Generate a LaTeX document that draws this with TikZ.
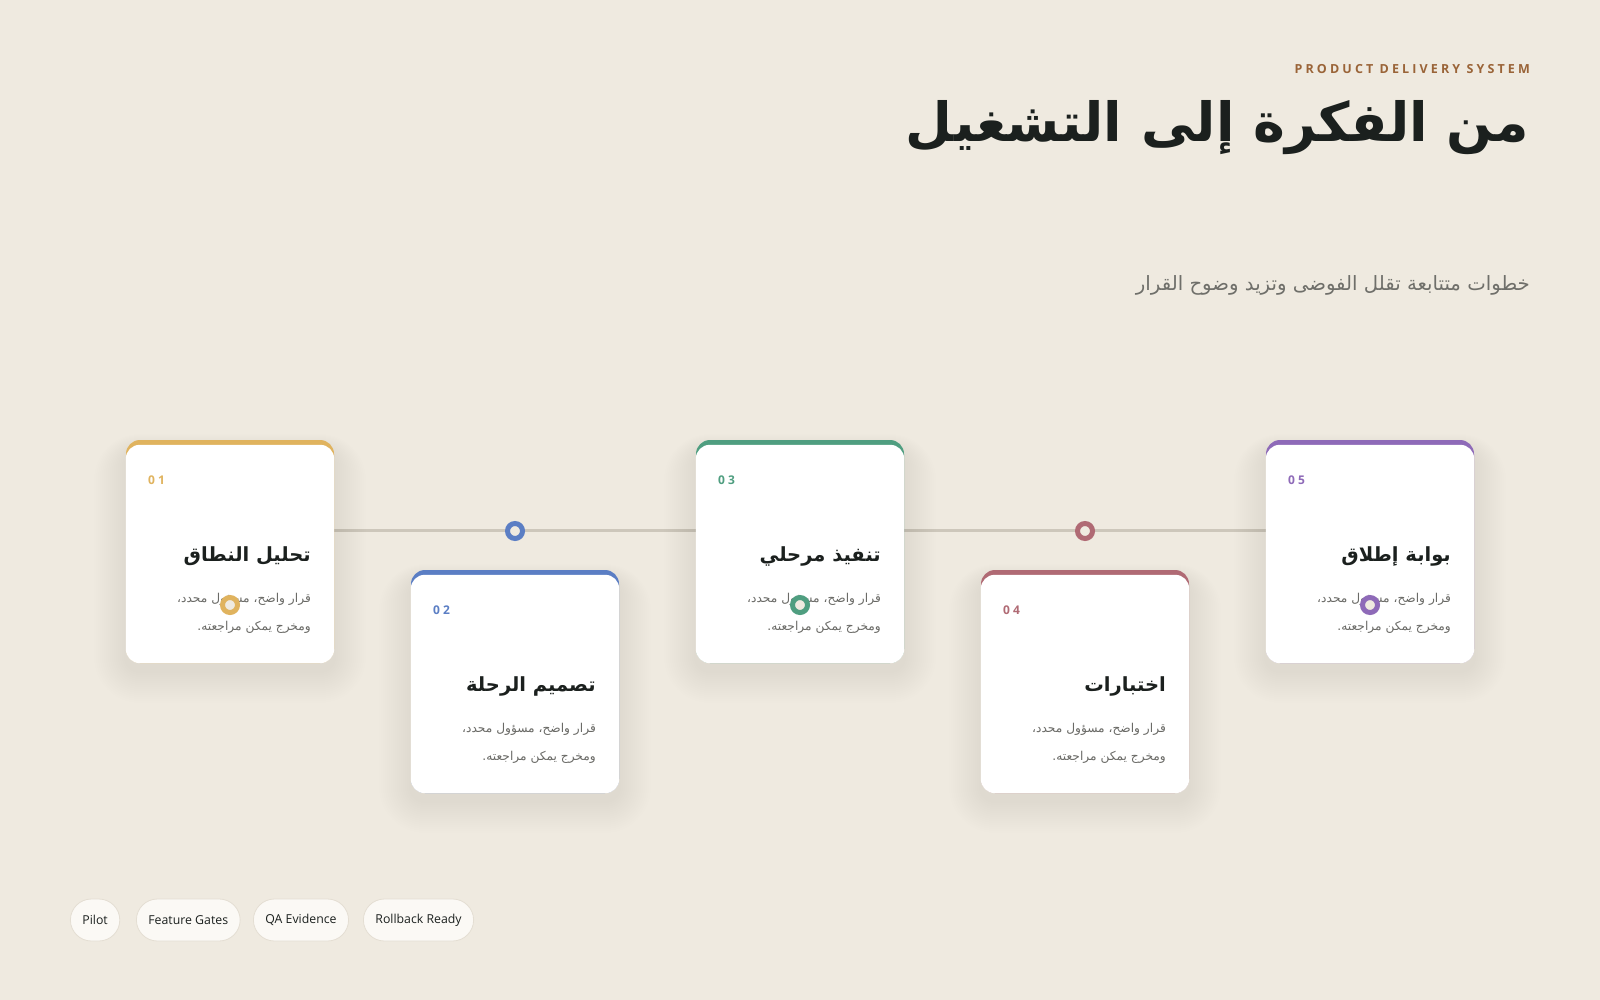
\documentclass[tikz,border=0pt]{standalone}
\usepackage{fontspec}
\setmainfont{Open Sans}
\newfontfamily\arb[Script=Arabic]{DejaVu Sans}
\newfontfamily\spaced[LetterSpace=25]{Open Sans}
\TeXXeTstate=1
\definecolor{bg}{HTML}{EFEAE0}
\definecolor{cgold}{HTML}{E0B35E}
\definecolor{cblue}{HTML}{5B7EC4}
\definecolor{cgreen}{HTML}{4F9E80}
\definecolor{cred}{HTML}{B06A74}
\definecolor{cpurple}{HTML}{8E6AB8}
\definecolor{tline}{HTML}{CDC7BB}
\definecolor{ink}{HTML}{1B201E}
\definecolor{desc}{HTML}{6A6A66}
\definecolor{kicker}{HTML}{9A6438}
\definecolor{subt}{HTML}{6F6F6A}
\definecolor{pillfill}{HTML}{FBF9F5}
\definecolor{pillline}{HTML}{E4DED3}
\definecolor{shade}{HTML}{4A3F2A}
\tikzset{
  cardbase/.style={rectangle, rounded corners=14pt, minimum width=208pt, minimum height=223pt, inner sep=0pt},
  cardface/.style={fill=white, rounded corners=14pt},
  dotring/.style={circle, minimum size=15pt, inner sep=0pt, line width=5pt, fill=bg},
  numtxt/.style={anchor=west, inner sep=0pt, font=\spaced\bfseries\fontsize{12}{14}\selectfont},
  titletxt/.style={anchor=east, inner sep=0pt, text=ink, font=\arb\bfseries\fontsize{19.5}{24}\selectfont},
  desctxt/.style={anchor=east, inner sep=0pt, text=desc, font=\arb\fontsize{12.2}{15}\selectfont},
  pill/.style={anchor=west, rounded corners=21pt, minimum height=42pt, inner xsep=12pt, fill=pillfill, draw=pillline, line width=0.8pt, text=ink, font=\fontsize{12.3}{15}\selectfont},
  timeline/.style={draw=tline, line width=3pt},
  shadowlayer/.style={fill=shade, fill opacity=0.004}
}
\begin{document}
\begin{tikzpicture}[x=1pt,y=-1pt]
\useasboundingbox (0,0) rectangle (1600,1000);
\fill[bg] (0,0) rectangle (1600,1000);

% header
\node[anchor=east, inner sep=0pt, text=kicker, font=\spaced\bfseries\fontsize{12.5}{15}\selectfont] (kick) at (1530,69) {PRODUCT DELIVERY SYSTEM};
\node[anchor=east, inner sep=0pt, text=ink, font=\arb\bfseries\fontsize{54}{62}\selectfont] (ttl) at (1529,128) {\beginR من الفكرة إلى التشغيل\endR};
\node[anchor=east, inner sep=0pt, text=subt, font=\arb\fontsize{19.7}{23}\selectfont] (sub) at (1530,285) {\beginR خطوات متتابعة تقلل الفوضى وتزيد وضوح القرار\endR};

% timeline
\coordinate (tl) at (200,530);
\coordinate (tr) at (1400,530);
\draw[timeline] (tl) -- (tr);

% card shadows
\foreach \x/\y in {126/440,411/570,696/440,981/570,1266/440}{
  \foreach \k in {1,...,16}{
    \fill[shadowlayer, rounded corners=14pt+2*\k pt] (\x-2*\k,\y+10-\k) rectangle (\x+208+2*\k,\y+223+8+2*\k);
  }
}

% cards
\foreach \i/\x/\y/\col/\num/\ttext in {
  1/126/440/cgold/01/تحليل النطاق,
  2/411/570/cblue/02/تصميم الرحلة,
  3/696/440/cgreen/03/تنفيذ مرحلي,
  4/981/570/cred/04/اختبارات,
  5/1266/440/cpurple/05/بوابة إطلاق}{
  \node[cardbase, fill=\col] (c\i) at (\x+104,\y+111.5) {};
  \fill[cardface] ([yshift=-5pt]c\i.north west) rectangle (c\i.south east);
  \node[numtxt, text=\col] (n\i) at (\x+22,\y+40) {\num};
  \node[titletxt] (t\i) at (\x+185,\y+116) {\beginR\ttext\endR};
  \node[desctxt] (da\i) at (\x+185,\y+159) {\beginR قرار واضح، مسؤول محدد،\endR};
  \node[desctxt] (db\i) at (\x+185,\y+187) {\beginR ومخرج يمكن مراجعته.\endR};
}

% dots
\node[dotring, draw=cgold] (d1) at (230,605) {};
\node[dotring, draw=cblue] (d2) at (515,531) {};
\node[dotring, draw=cgreen] (d3) at (800,605) {};
\node[dotring, draw=cred] (d4) at (1085,531) {};
\node[dotring, draw=cpurple] (d5) at (1370,605) {};

% tags
\node[pill] (p1) at (70,920) {Pilot};
\node[pill] (p2) at (136,920) {Feature Gates};
\node[pill] (p3) at (253,920) {QA Evidence};
\node[pill] (p4) at (363,920) {Rollback Ready};
\end{tikzpicture}
\end{document}
